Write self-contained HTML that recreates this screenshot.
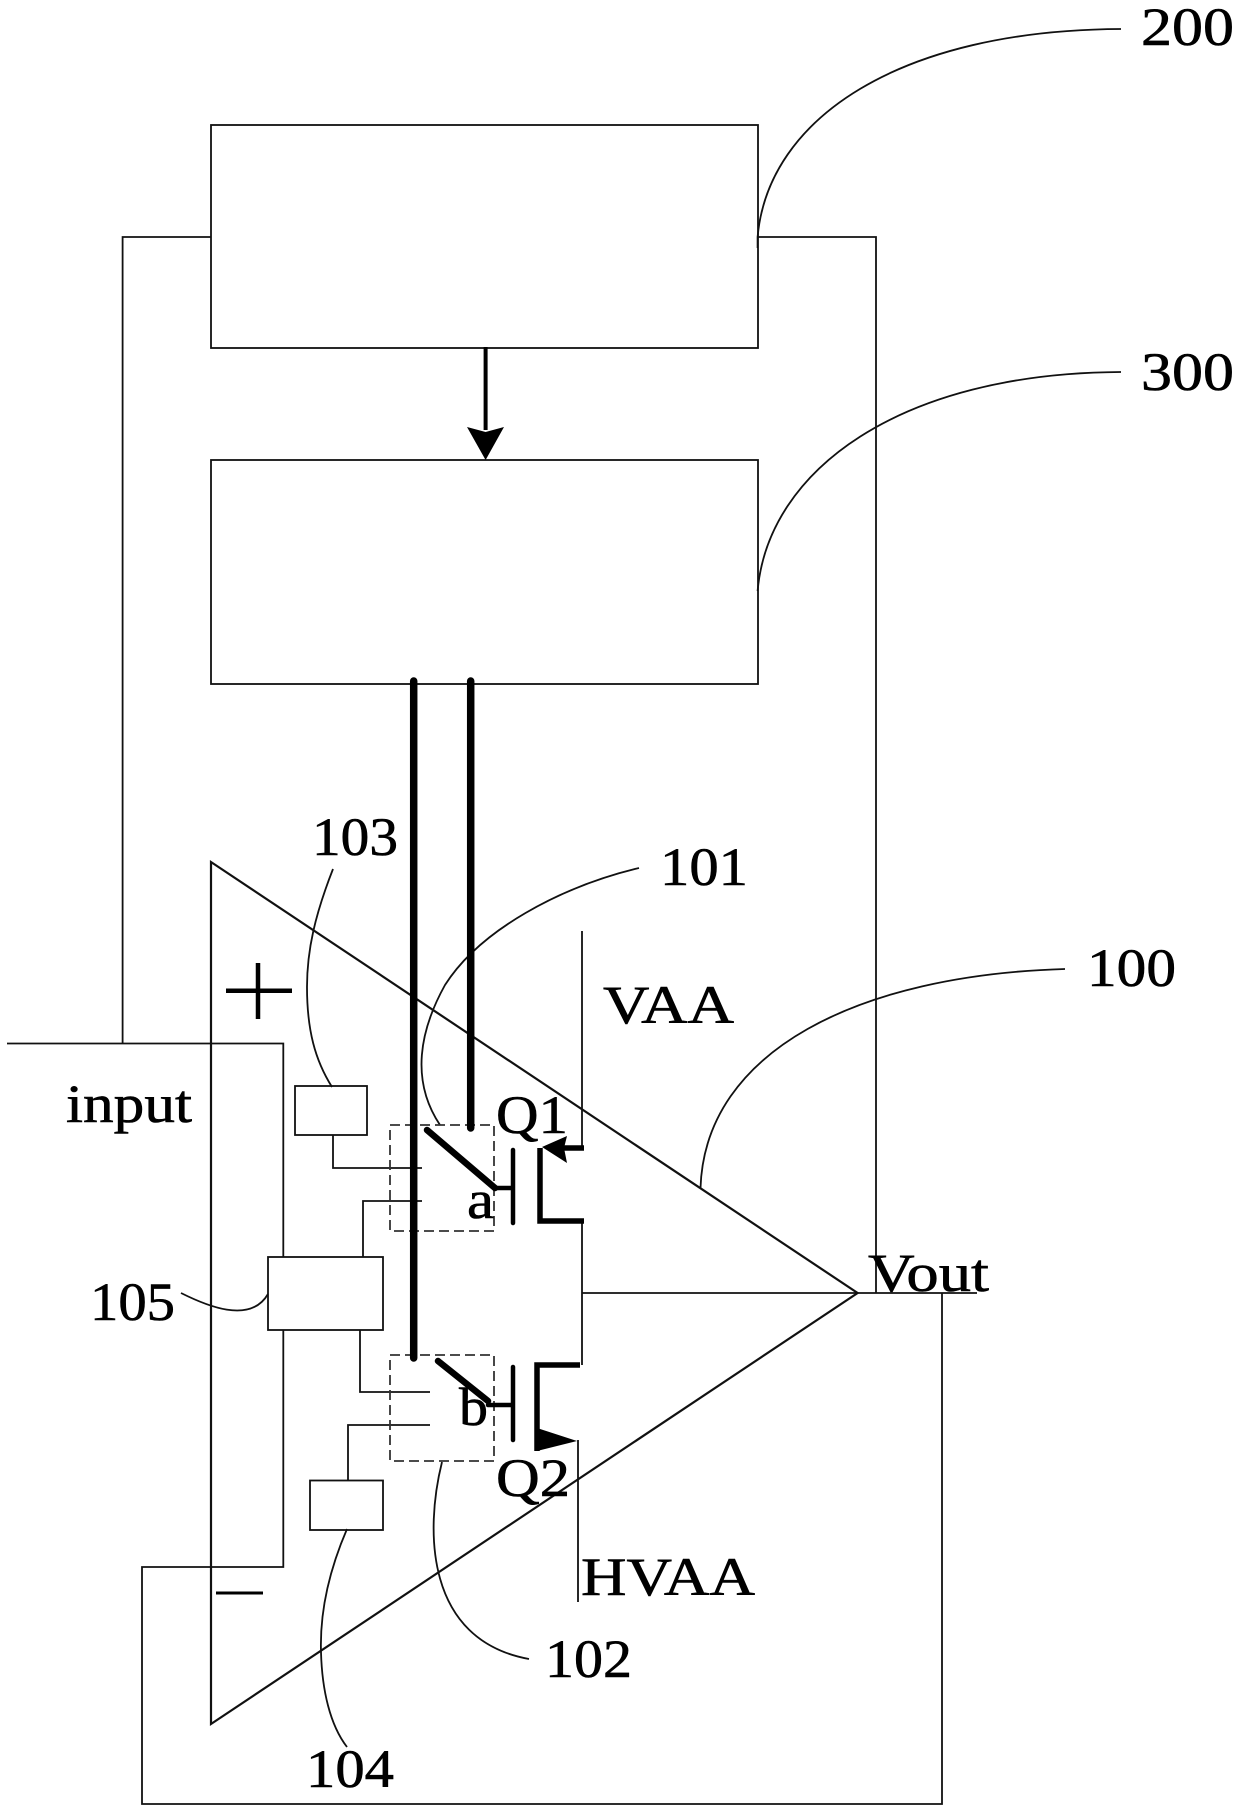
<!DOCTYPE html>
<html><head><meta charset="utf-8"><style>html,body{margin:0;padding:0;background:#fff}svg{display:block}text{font-family:"Liberation Serif",serif;font-size:54px;fill:#000;stroke:#000;stroke-width:.6}</style></head><body>
<svg width="1240" height="1813" viewBox="0 0 1240 1813" xmlns="http://www.w3.org/2000/svg">
<g fill="none" stroke="#111" stroke-width="1.8">
<rect x="211" y="125" width="547" height="223"/>
<rect x="211" y="460" width="547" height="224"/>
<path d="M211 237H122.6V1043M758 237H876V1293"/>
<path d="M7 1043.5H283.3V1257M283.3 1330V1567H142V1804H942V1293"/>
<path d="M211 1724V862L857.6 1293L211 1724Z" stroke-width="2.2"/>
<path d="M582 1293H977"/>
<path d="M582 931V1148M582 1221V1365M578 1440V1602"/>
<rect x="295" y="1086" width="72" height="49"/>
<path d="M333 1135V1168H422M363 1257V1201H422"/>
<rect x="268" y="1257" width="115" height="73"/>
<path d="M360 1330V1392H430M348 1480V1425H430"/>
<rect x="310" y="1480.5" width="73" height="49.5"/>
<path d="M757.6 248V237C768 118 900 30 1121 29M757.6 591C768 470 900 373 1121 372M700.5 1188C705 1050 860 975 1065 969M639 868C560 887 480 930 445 985C420 1030 410 1080 440 1125M333 869C315 915 307 950 307 987C307 1030 315 1060 332 1087M181 1293C205 1305 250 1325 268 1294M442 1462C425 1530 425 1640 529 1659M347 1529C325 1580 320 1620 321 1652C322 1690 330 1725 347 1747"/>
<g stroke-dasharray="10 5" stroke="#333"><rect x="390" y="1125" width="104" height="106"/><rect x="390" y="1355" width="104" height="106"/></g>
</g>
<g fill="none" stroke="#000" stroke-linecap="round">
<path d="M413.7 681V1358M470.7 681V1128" stroke-width="7.5"/>
<path d="M427 1130L495 1188M438 1361L488 1401" stroke-width="6.5"/>
<path d="M495 1188H513M513 1150V1223M488 1405H513M513 1367V1440" stroke-width="4.5"/>
<path d="M584 1148H555M584 1221H540V1148M580 1365H537V1451" stroke-width="5.5" stroke-linecap="butt"/>
<path d="M226 990.7H292M258 963V1019" stroke-width="4.5" stroke-linecap="butt"/>
<path d="M216 1593H263" stroke-width="3" stroke-linecap="butt"/>
<path d="M485.6 347V430" stroke-width="4" stroke-linecap="butt"/>
</g>
<path d="M542 1147L567 1136L564 1148L567 1163Z M537 1428L577 1441L537 1451Z M485.6 460L467 427L485.6 432L504 427Z" fill="#000"/>
<g>
<text x="1141" y="45" textLength="93" lengthAdjust="spacingAndGlyphs">200</text>
<text x="1141" y="390" textLength="93" lengthAdjust="spacingAndGlyphs">300</text>
<text x="1087" y="986" textLength="89" lengthAdjust="spacingAndGlyphs">100</text>
<text x="312" y="855" textLength="86" lengthAdjust="spacingAndGlyphs">103</text>
<text x="660" y="885" textLength="88" lengthAdjust="spacingAndGlyphs">101</text>
<text x="90" y="1320" textLength="85" lengthAdjust="spacingAndGlyphs">105</text>
<text x="545" y="1677" textLength="87" lengthAdjust="spacingAndGlyphs">102</text>
<text x="306" y="1787" textLength="88" lengthAdjust="spacingAndGlyphs">104</text>
<text x="66" y="1122" textLength="126" lengthAdjust="spacingAndGlyphs">input</text>
<text x="603" y="1023" textLength="131" lengthAdjust="spacingAndGlyphs">VAA</text>
<text x="581" y="1595" textLength="174" lengthAdjust="spacingAndGlyphs">HVAA</text>
<text x="868" y="1291" textLength="121" lengthAdjust="spacingAndGlyphs">Vout</text>
<text x="496" y="1133" textLength="72" lengthAdjust="spacingAndGlyphs">Q1</text>
<text x="496" y="1496" textLength="74" lengthAdjust="spacingAndGlyphs">Q2</text>
<text x="467" y="1218" textLength="27" lengthAdjust="spacingAndGlyphs">a</text>
<text x="459" y="1425" textLength="29" lengthAdjust="spacingAndGlyphs">b</text>
</g>
</svg>
</body></html>
